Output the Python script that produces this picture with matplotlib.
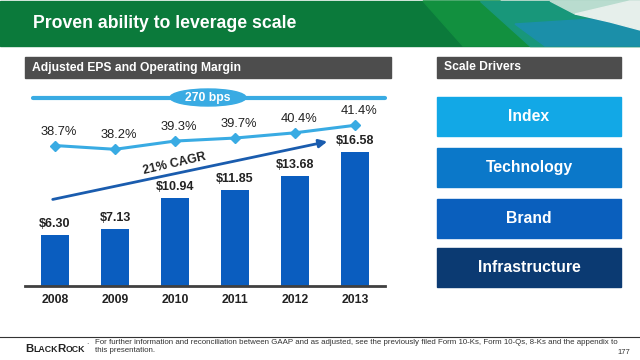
import matplotlib
matplotlib.use("Agg")
import matplotlib.pyplot as plt
from matplotlib.patches import Rectangle, Ellipse, Polygon, FancyArrowPatch

plt.rcParams['font.family'] = ['Liberation Sans', 'DejaVu Sans']

# data
years = ['2008', '2009', '2010', '2011', '2012', '2013']
eps = [6.30, 7.13, 10.94, 11.85, 13.68, 16.58]
margin = [38.7, 38.2, 39.3, 39.7, 40.4, 41.4]
drivers = ['Index', 'Technology', 'Brand', 'Infrastructure']
driver_colors = ['#12a8e6', '#0b78c9', '#0a5fbd', '#0b3a72']

W, H = 640, 360
fig = plt.figure(figsize=(W / 100, H / 100), dpi=100)

# overlay in pixel coords (y from top) for the slide furniture
bg = fig.add_axes([0, 0, 1, 1])
bg.set_xlim(0, W)
bg.set_ylim(H, 0)
bg.axis('off')

# green header band with swooshes on the right
bg.add_patch(Rectangle((0, 1), W, 45, color='#0b7a3b', zorder=1))
bg.add_patch(Polygon([(423, 1), (500, 1), (545, 46), (463, 46)], color='#12903f', zorder=2))
bg.add_patch(Polygon([(480, 1), (640, 1), (640, 46), (530, 46)], color='#18977a', zorder=3))
bg.add_patch(Polygon([(515, 24), (640, 16), (640, 46), (545, 46)], color='#1b8fa9', zorder=4))
bg.add_patch(Polygon([(550, 1), (630, 1), (600, 10), (575, 14)], color='#b9dccf', zorder=5))
bg.add_patch(Polygon([(575, 14), (630, 1), (640, 1), (640, 30), (610, 22)], color='#e6efeb', zorder=6))
bg.text(33, 24, 'Proven ability to leverage scale', color='white', fontsize=12.7,
        fontweight='bold', va='center', ha='left', zorder=10)

# section headers
bg.add_patch(Rectangle((25, 57), 366, 21, color='#4d4d4d'))
bg.text(32, 67.5, 'Adjusted EPS and Operating Margin', color='white', fontsize=8.7,
        fontweight='bold', va='center', ha='left')
bg.add_patch(Rectangle((437, 57), 184, 21, color='#4d4d4d'))
bg.text(444, 67.5, 'Scale Drivers', color='white', fontsize=8.7,
        fontweight='bold', va='center', ha='left')

# scale driver boxes
tops = [97, 148, 199, 248]
for name, col, t in zip(drivers, driver_colors, tops):
    bg.add_patch(Rectangle((437, t), 184, 38.5, color=col))
    bg.text(529, t + 19.5, name, color='white', fontsize=11.3, fontweight='bold',
            ha='center', va='center')

# 270 bps bar
bg.plot([33, 385], [97.5, 97.5], color='#39abe3', lw=3, solid_capstyle='round', zorder=2)
bg.add_patch(Ellipse((208, 97.5), 76, 17, color='#39abe3', zorder=3))
bg.text(208, 97.5, '270 bps', color='white', fontsize=8.8, fontweight='bold',
        ha='center', va='center', zorder=4)

# footer
bg.plot([0, W], [337, 337], color='#333333', lw=0.8)
logo = [('B', 8.2), ('LACK', 6.3), ('R', 8.2), ('OCK', 6.3)]
fig.canvas.draw()
r = fig.canvas.get_renderer()
xpos = 25
for s, fs in logo:
    t = bg.text(xpos, 352.5, s, fontsize=fs, fontweight='bold', color='#222222',
                va='baseline', ha='left')
    w, h, d = r.get_text_width_height_descent(s, t.get_fontproperties(), ismath=False)
    xpos += w
bg.text(xpos + 1, 345, '\u00b7', fontsize=5, color='#222222', va='center', ha='left')
bg.text(95, 346.5, 'For further information and reconciliation between GAAP and as adjusted, '
        'see the previously filed Form 10-Ks, Form 10-Qs, 8-Ks and the appendix to\nthis presentation.',
        fontsize=5.7, color='#333333', va='center', ha='left', linespacing=1.2)
bg.text(630, 353, '177', fontsize=5.5, color='#333333', va='center', ha='right')

# EPS bars
ax = fig.add_axes([25 / W, 74 / H, 360 / W, 196 / H])
ax.set_xlim(-0.5, 5.5)
ax.set_ylim(0, 196 / 8.06)
x = list(range(len(years)))
ax.bar(x, eps, width=28 / 60, color='#0a5dbf', zorder=2)
for xi, v in zip(x, eps):
    ax.annotate(f'${v:.2f}', (xi, v), xytext=(0, 11), textcoords='offset pixels',
                ha='center', va='center', fontsize=9, fontweight='bold', color='#222222')
ax.set_xticks(x)
ax.set_xticklabels(years, fontsize=8.8, fontweight='bold', color='#222222')
ax.tick_params(axis='x', length=0, pad=6)
ax.set_yticks([])
for s in ['top', 'right', 'left']:
    ax.spines[s].set_visible(False)
ax.spines['bottom'].set_color('#404040')
ax.spines['bottom'].set_linewidth(2)
ax.patch.set_alpha(0)

# operating margin line
ax2 = ax.twinx()
lo = 38.2 - 136.7 / 7.5
ax2.set_ylim(lo, lo + 196 / 7.5)
ax2.plot(x, margin, color='#39abe3', lw=2.2, marker='D', markersize=5, zorder=3)
for xi, m in zip(x, margin):
    ax2.annotate(f'{m:.1f}%', (xi, m), xytext=(4, 14), textcoords='offset pixels',
                 ha='center', va='center', fontsize=9.3, color='#222222')
ax2.axis('off')

# CAGR arrow
cagr = (eps[-1] / eps[0]) ** (1 / (len(eps) - 1)) - 1
bg.add_patch(FancyArrowPatch((50, 200), (330, 141), arrowstyle='-|>', mutation_scale=12,
                             color='#1a5cae', lw=2, zorder=5))
bg.text(175, 164, f'{cagr * 100:.0f}% CAGR', rotation=13, fontsize=8.8, fontweight='bold',
        color='#222222', ha='center', va='center', zorder=6)

fig.savefig('out.png', dpi=100)
